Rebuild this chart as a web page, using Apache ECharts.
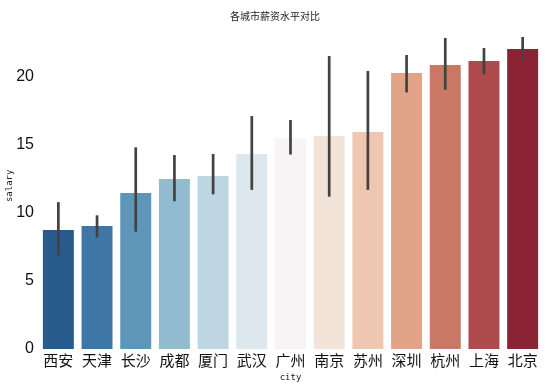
<!DOCTYPE html>
<html><head><meta charset="utf-8">
<script src="https://cdn.jsdelivr.net/npm/echarts@6/dist/echarts.min.js"></script>
<style>html,body{margin:0;padding:0;background:#fff}#c{width:550px;height:387px}</style>
</head><body><div id="c"></div>
<script>
const cities = ['西安','天津','长沙','成都','厦门','武汉','广州','南京','苏州','深圳','杭州','上海','北京'];
const salary = [8.75, 9.04, 11.47, 12.5, 12.72, 14.34, 15.5, 15.66, 15.96, 20.29, 20.88, 21.18, 22.06];
const errLow = [6.9, 8.2, 8.63, 10.86, 11.37, 11.7, 14.3, 11.2, 11.7, 18.87, 19.07, 20.2, 21.15];
const errHigh = [10.8, 9.83, 14.83, 14.26, 14.34, 17.13, 16.84, 21.54, 20.44, 21.62, 22.87, 22.13, 22.94];
const colors = ['#285a8b','#3e77a7','#5d96b8','#93bbd0','#bed5e2','#dde8ee','#f6f4f4','#f3e4da','#efc7b0','#e1a488','#c97865','#ac4a4c','#8a2333'];
const yTicks = [0, 5, 10, 15, 20];

const chart = echarts.init(document.getElementById('c'), null, {renderer: 'canvas'});
chart.setOption({
  backgroundColor: '#fff',
  animation: false,
  title: {text: '各城市薪资水平对比', left: 'center', top: 6,
    textStyle: {fontSize: 10, fontWeight: 'normal', color: '#222', fontFamily: 'Noto Sans CJK SC'}},
  grid: {left: 39, right: 8, top: 22.6, bottom: 38, containLabel: false, outerBoundsMode: 'none'},
  xAxis: {type: 'category', data: cities, name: 'city', nameLocation: 'middle', nameGap: 22,
    nameTextStyle: {fontSize: 9, color: '#222', fontFamily: 'DejaVu Sans Mono'},
    axisLine: {show: false}, axisTick: {show: false},
    axisLabel: {interval: 0, fontSize: 15, color: '#111', margin: 4, fontFamily: 'Noto Sans CJK SC'}},
  yAxis: {type: 'value', min: 0, max: 24, interval: 5, name: 'salary', nameLocation: 'middle', nameGap: 25,
    nameRotate: 90, nameMoveOverlap: false,
    nameTextStyle: {fontSize: 9, color: '#222', fontFamily: 'DejaVu Sans Mono'},
    axisLine: {show: false}, axisTick: {show: false}, splitLine: {show: false},
    axisLabel: {fontSize: 16, color: '#111', margin: 5, fontFamily: 'Liberation Sans',
      formatter: v => yTicks.includes(v) ? String(v) : ''}},
  series: [
    {type: 'bar', data: salary.map((v, i) => ({value: v, itemStyle: {color: colors[i]}})),
     barCategoryGap: '20%'},
    {type: 'custom', z: 10,
     data: cities.map((c, i) => [i, errLow[i], errHigh[i]]),
     renderItem: (params, api) => {
       const p1 = api.coord([api.value(0), api.value(1)]);
       const p2 = api.coord([api.value(0), api.value(2)]);
       return {type: 'line', shape: {x1: p1[0], y1: p1[1], x2: p2[0], y2: p2[1]},
         style: {stroke: '#424242', lineWidth: 2.7}};
     }}
  ]
});
</script></body></html>
